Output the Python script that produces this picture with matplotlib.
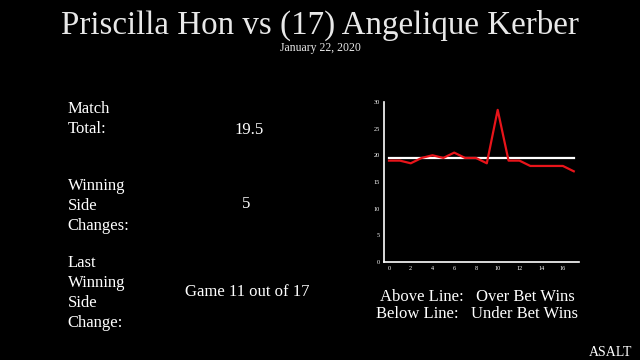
import numpy as np
import matplotlib
matplotlib.use("Agg")
from matplotlib import pyplot as plt

plt.rcParams['font.family'] = ['Liberation Serif', 'DejaVu Serif']

games = list(range(18))
totals = [19, 19, 18.5, 19.5, 20, 19.5, 20.5, 19.5, 19.5, 18.5,
          28.5, 19, 19, 18, 18, 18, 18, 17]
match_line = 19.5

title = "Priscilla Hon vs (17) Angelique Kerber"
date = "January 22, 2020"

fig = plt.figure(figsize=(6.4, 3.6), dpi=100, facecolor='black')

fig.text(0.5, 0.93, title, color='#e8e8e8', fontsize=23.8, ha='center', va='center')
fig.text(0.5, 0.866, date, color='#e8e8e8', fontsize=8.5, ha='center', va='center')

# left panel text
txt = dict(color='white', fontsize=12, va='center')
fig.text(0.106, 0.67, "Match\nTotal:", linespacing=1.33, **txt)
fig.text(0.39, 0.64, "19.5", ha='center', **txt)
fig.text(0.106, 0.428, "Winning\nSide\nChanges:", linespacing=1.33, **txt)
fig.text(0.385, 0.434, "5", ha='center', **txt)
fig.text(0.106, 0.187, "Last\nWinning\nSide\nChange:", linespacing=1.33, **txt)
fig.text(0.386, 0.19, "Game 11 out of 17", ha='center', **txt)

fig.text(0.746, 0.175, "Above Line:   Over Bet Wins", ha='center', **txt)
fig.text(0.746, 0.127, "Below Line:   Under Bet Wins", ha='center', **txt)
fig.text(0.988, 0.022, "ASALT", ha='right', color='white', fontsize=10, va='center')

ax = fig.add_axes([0.6, 0.272, 0.305, 0.445])
ax.set_facecolor('black')
ax.plot([games[0], games[-1]], [match_line, match_line], color='white', lw=1.6)
ax.plot(games, totals, color='#e8141a', lw=1.6)
ax.set_xlim(-0.46, 17.5)
ax.set_ylim(0, 30)
ax.set_xticks(range(0, 17, 2))
ax.set_yticks(range(0, 31, 5))
for s in ['top', 'right']:
    ax.spines[s].set_visible(False)
for s in ['left', 'bottom']:
    ax.spines[s].set_color('white')
    ax.spines[s].set_linewidth(1.2)
ax.tick_params(colors='white', labelsize=4.5, length=0, pad=3)

fig.savefig('out.png', dpi=100, facecolor='black')
